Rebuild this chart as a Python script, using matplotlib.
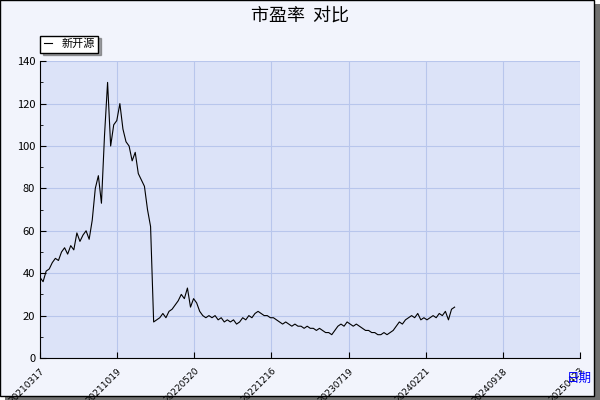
import numpy as np
import matplotlib
matplotlib.use('Agg')
from matplotlib import pyplot as plt
from matplotlib.patches import Rectangle

plt.rcParams['font.family'] = ['Noto Sans CJK SC', 'DejaVu Sans']

# PE values, sampled evenly in time (before and after the sharp drop)
pe_part1 = [38, 36, 41, 42, 45, 47, 46, 50, 52, 49, 53, 51, 59, 55, 58, 60, 56, 65,
            80, 86, 73, 105, 130, 100, 110, 112, 120, 108, 102, 100, 93, 97, 87, 84,
            81, 70, 62]
pe_part2 = [17, 18, 19, 21, 19, 22, 23, 25, 27, 30, 28, 33, 24, 28, 26, 22, 20, 19,
            20, 19, 20, 18, 19, 17, 18, 17, 18, 16, 17, 19, 18, 20, 19, 21, 22, 21,
            20, 20, 19, 19, 18, 17, 16, 17, 16, 15, 16, 15, 15, 14, 15, 14, 14, 13,
            14, 13, 12, 12, 11, 13, 15, 16, 15, 17, 16, 15, 16, 15, 14, 13, 13, 12,
            12, 11, 11, 12, 11, 12, 13, 15, 17, 16, 18, 19, 20, 19, 21, 18, 19, 18,
            19, 20, 19, 21, 20, 22, 18, 23, 24]
date_labels = ['20210317', '20211019', '20220520', '20221216', '20230719',
               '20240221', '20240918', '20250423']

x1 = np.linspace(0, 36, len(pe_part1))
x2 = np.linspace(37, 135, len(pe_part2))
x = np.concatenate([x1, x2])
pe = pe_part1 + pe_part2
tick_pos = np.arange(len(date_labels)) * 25.12

fig = plt.figure(figsize=(6, 4), dpi=100, facecolor='white')
fig.patches.append(Rectangle((0.008, 0.0), 0.992, 0.99, transform=fig.transFigure,
                             facecolor='#707070', edgecolor='none', zorder=-2))
fig.patches.append(Rectangle((0.0, 0.01), 0.99, 0.99, transform=fig.transFigure,
                             facecolor='#f2f4fc', edgecolor='black', lw=1, zorder=-1))

ax = fig.add_axes([0.0667, 0.105, 0.9, 0.742])
ax.set_facecolor('#dce3f8')
ax.plot(x, pe, color='black', lw=0.8, label='新开源')
ax.set_xlim(0, 135)
ax.set_ylim(0, 140)
ax.set_yticks(range(0, 141, 20))
ax.set_yticks(range(0, 141, 10), minor=True)
ax.set_xticks(tick_pos)
ax.set_xticklabels(date_labels, rotation=45, ha='right', va='top', fontsize=6.5,
                   family='DejaVu Sans', rotation_mode='anchor')
ax.tick_params(axis='y', labelsize=8, direction='in', length=4)
ax.tick_params(axis='y', which='minor', direction='in', length=2)
ax.tick_params(axis='x', direction='in', length=4, pad=6)
ax.grid(True, color='#b8c6ec', lw=0.8)
for s in ['top', 'right']:
    ax.spines[s].set_visible(False)

fig.text(0.5, 0.96, '市盈率  对比', ha='center', va='center', fontsize=13)
fig.text(0.965, 0.055, '日期', ha='center', va='center', fontsize=9, color='blue')
leg = ax.legend(loc='lower left', bbox_to_anchor=(-0.01, 1.01), fontsize=8,
                frameon=True, fancybox=False, shadow=True, handlelength=0.8,
                borderpad=0.3)
leg.get_frame().set_edgecolor('black')

fig.savefig('out.png', dpi=100)
